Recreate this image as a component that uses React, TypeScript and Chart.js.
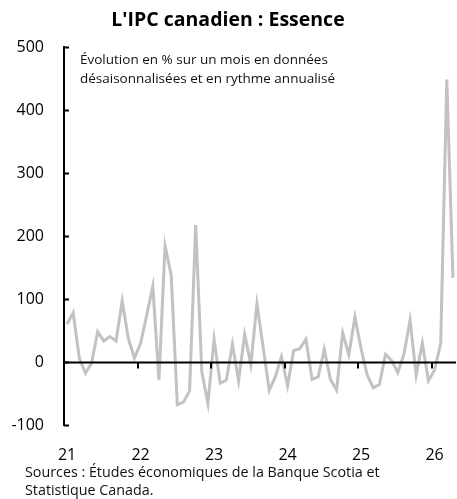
import React, { useEffect, useRef } from 'react';
import { Chart, registerables } from 'chart.js';

Chart.register(...registerables);

const FONT = "'Open Sans', 'Noto Sans', sans-serif";

// Monthly values, Jan 2021 -> Apr 2026 (% m/m, SA, annualized)
const values = [
  61, 79, 7, -17, -1, 49, 34, 41, 34, 98, 38, 7,
  30, 75, 121, -28, 185, 139, -67, -63, -45, 218, -15, -65,
  37, -33, -28, 29, -29, 45, -3, 93, 25, -44, -23, 9,
  -37, 19, 22, 37, -27, -23, 21, -27, -44, 47, 12, 72,
  22, -20, -40, -35, 13, 3, -16, 13, 67, -20, 31, -29,
  -12, 30, 449, 134,
];
const yearTicks = ['21', '22', '23', '24', '25', '26'];
const firstYear = 2021;
const yTicks = [-100, 0, 100, 200, 300, 400, 500];

const categories = values.map(
  (_, i) => `${firstYear + Math.floor(i / 12)}-${String((i % 12) + 1).padStart(2, '0')}`
);

const axisPlugin = {
  id: 'axisMarks',
  afterDatasetsDraw(chart: any) {
    const { ctx, chartArea, scales } = chart;
    const x = scales.x;
    const y = scales.y;
    const y0 = y.getPixelForValue(0);
    ctx.save();
    ctx.strokeStyle = '#000';
    ctx.lineWidth = 2;
    ctx.beginPath();
    ctx.moveTo(chartArea.left, y0);
    ctx.lineTo(chartArea.right, y0);
    ctx.stroke();
    const half = (x.getPixelForValue(1) - x.getPixelForValue(0)) / 2;
    ctx.beginPath();
    for (let i = 12; i < values.length; i += 12) {
      const px = Math.round(x.getPixelForValue(i) - half);
      ctx.moveTo(px, y0);
      ctx.lineTo(px, y0 + 6);
    }
    yTicks.forEach((v) => {
      const py = y.getPixelForValue(v);
      ctx.moveTo(chartArea.left, py);
      ctx.lineTo(chartArea.left + 5, py);
    });
    ctx.stroke();
    ctx.restore();
  },
};

export default function App() {
  const canvasRef = useRef<HTMLCanvasElement | null>(null);

  useEffect(() => {
    if (!canvasRef.current) return;
    const chart = new Chart(canvasRef.current, {
      type: 'line',
      data: {
        labels: categories,
        datasets: [
          {
            data: values,
            borderColor: '#c2c2c2',
            borderWidth: 3,
            pointRadius: 0,
            tension: 0,
            fill: false,
          },
        ],
      },
      options: {
        responsive: false,
        animation: false,
        devicePixelRatio: 1,
        layout: { padding: { left: 0, right: 1, top: 0, bottom: 33.5 } },
        plugins: {
          legend: { display: false },
          tooltip: { enabled: false },
          title: {
            display: true,
            text: "L'IPC canadien : Essence",
            color: '#000',
            font: { family: FONT, size: 19.5, weight: 'bold' },
            padding: { top: 9, bottom: 15 },
          },
        },
        scales: {
          x: {
            type: 'category',
            offset: true,
            grid: { display: false, drawTicks: true, tickLength: 20 },
            border: { display: false },
            ticks: {
              autoSkip: false,
              maxRotation: 0,
              minRotation: 0,
              padding: 0,
              color: '#000',
              font: { family: FONT, size: 16 },
              callback: (_v: any, i: number) => (i % 12 === 0 ? yearTicks[i / 12] : ''),
            },
            afterFit: (s: any) => {
              s.height = 40;
              s.paddingLeft = 0;
              s.paddingRight = 0;
            },
          },
          y: {
            min: -100,
            max: 500,
            grid: { display: false, drawTicks: false },
            border: { display: true, color: '#000', width: 2 },
            ticks: {
              stepSize: 100,
              padding: 20,
              color: '#000',
              font: { family: FONT, size: 16 },
            },
            afterFit: (s: any) => {
              s.width = 64;
            },
          },
        },
      },
      plugins: [axisPlugin],
    } as any);
    return () => chart.destroy();
  }, []);

  return (
    <div
      style={{
        position: 'fixed',
        left: 0,
        top: 0,
        width: 457,
        height: 499,
        background: '#fff',
        fontFamily: FONT,
      }}
    >
      <canvas ref={canvasRef} width={457} height={499} style={{ display: 'block' }} />
      <div
        style={{
          position: 'absolute',
          left: 80,
          top: 50,
          fontSize: 13.5,
          lineHeight: '19px',
          color: '#111',
          whiteSpace: 'nowrap',
        }}
      >
        Évolution en % sur un mois en données
        <br />
        désaisonnalisées et en rythme annualisé
      </div>
      <div
        style={{
          position: 'absolute',
          left: 25,
          top: 463,
          fontSize: 14.3,
          lineHeight: '17.5px',
          color: '#111',
          whiteSpace: 'nowrap',
        }}
      >
        Sources : Études économiques de la Banque Scotia et
        <br />
        Statistique Canada.
      </div>
    </div>
  );
}
